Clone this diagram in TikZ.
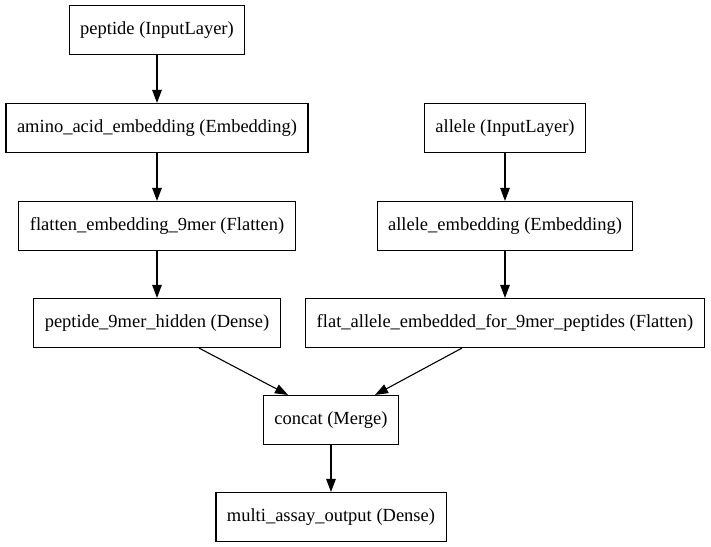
\documentclass[tikz,border=0pt]{standalone}
\usepackage{fontspec}
\setmainfont{Liberation Serif}
\usetikzlibrary{arrows.meta}
\tikzset{
	layer/.style = {draw, line width=1.1bp, inner xsep=11bp, minimum height=49bp,
		font=\fontsize{18.5bp}{22bp}\selectfont},
	ar/.style = {-{Triangle[length=13bp, width=9.5bp]}, line width=1.1bp},
}

\begin{document}
\begin{tikzpicture}[x=1bp, y=-1bp]
	\useasboundingbox (0,0) rectangle (711,547);
	
	%% PEPTIDE BRANCH   (x = 157)
	\node[layer] (peptide) at (157, 30) {peptide (InputLayer)};
	\node[layer] (aaemb)   at (157,128) {amino\_acid\_embedding (Embedding)};
	\node[layer] (flat9)   at (157,226) {flatten\_embedding\_9mer (Flatten)};
	\node[layer] (hidden)  at (157,323) {peptide\_9mer\_hidden (Dense)};
	
	%% ALLELE BRANCH   (x = 505)
	\node[layer] (allele)    at (505,128) {allele (InputLayer)};
	\node[layer] (alleleemb) at (505,226) {allele\_embedding (Embedding)};
	\node[layer] (flatallele) at (505,323) {flat\_allele\_embedded\_for\_9mer\_peptides (Flatten)};
	
	%% MERGE + OUTPUT   (x = 331)
	\node[layer] (concat) at (331,420) {concat (Merge)};
	\node[layer] (output) at (331,517) {multi\_assay\_output (Dense)};
	
	%% EDGES
	\draw[ar] (peptide) -- (aaemb);
	\draw[ar] (aaemb)   -- (flat9);
	\draw[ar] (flat9)   -- (hidden);
	\draw[ar] (allele)    -- (alleleemb);
	\draw[ar] (alleleemb) -- (flatallele);
	\draw[ar] ([xshift=42bp]hidden.south)     -- ([xshift=-43bp]concat.north);
	\draw[ar] ([xshift=-43bp]flatallele.south) -- ([xshift=44bp]concat.north);
	\draw[ar] (concat) -- (output);
	
\end{tikzpicture}
\end{document}
